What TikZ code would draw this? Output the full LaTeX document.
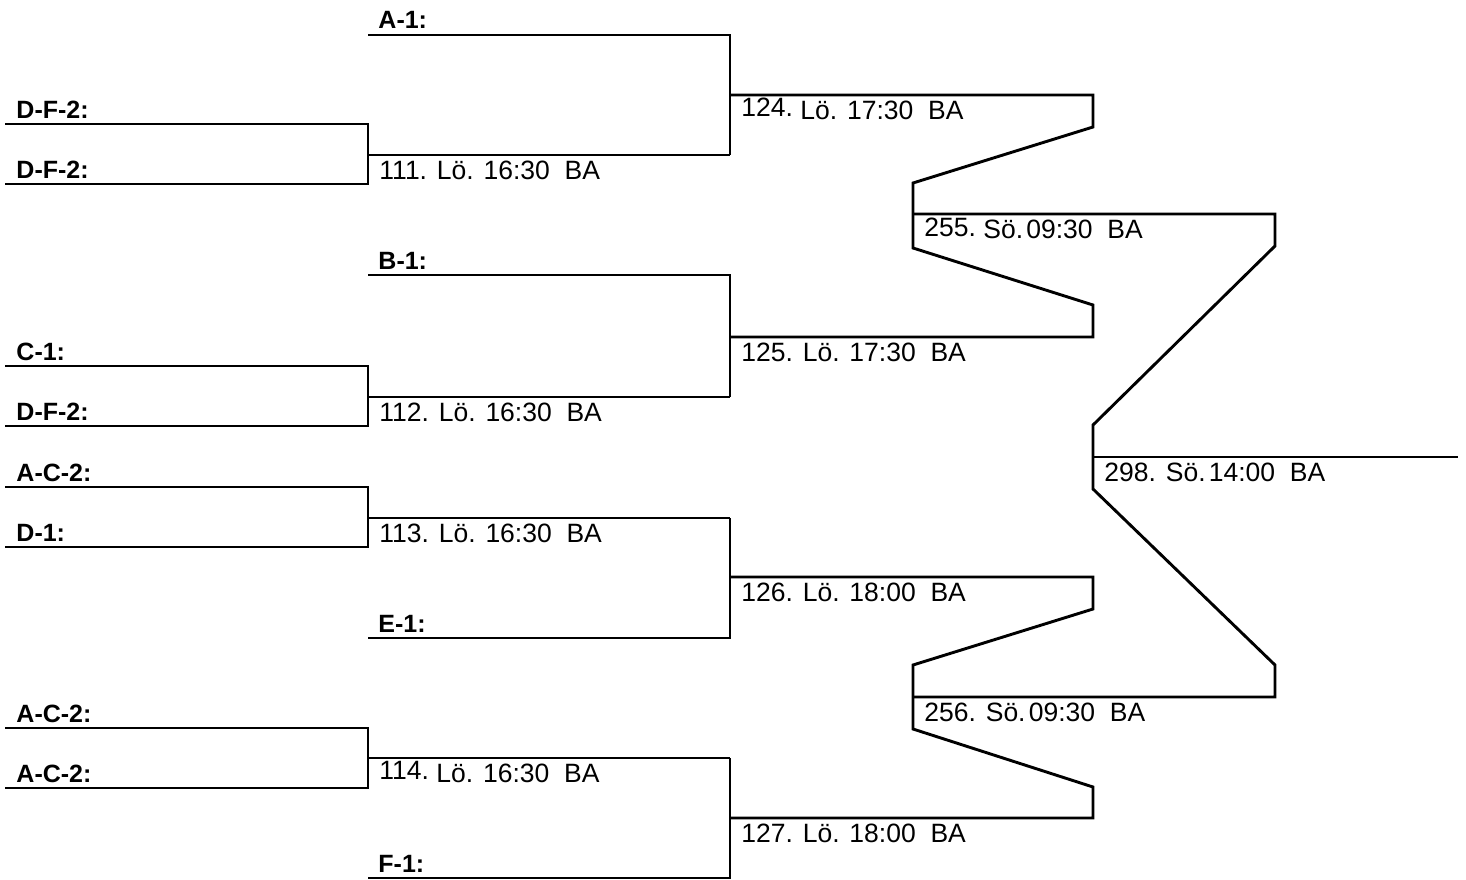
\documentclass[tikz,border=0pt]{standalone}
\usepackage{fontspec}
\setmainfont{Liberation Sans}
\begin{document}
\begin{tikzpicture}[x=1pt,y=-1pt,line width=2.9pt,line join=miter,
  team/.style={anchor=base west,inner sep=0pt,font=\bfseries\fontsize{25}{28}\selectfont},
  game/.style={anchor=base west,inner sep=0pt,font=\fontsize{26.5}{30}\selectfont}]
\useasboundingbox (0,0) rectangle (1466,880);
% ---------- coordinates ----------
\foreach \n/\x/\y in {
  t1/5/124, b1/5/184, t2/5/366, b2/5/426, t3/5/487, b3/5/547, t4/5/728, b4/5/788,
  ta/368/35, tb/368/275, te/368/638, tf/368/878}
  {\coordinate (\n) at (\x,\y);}
% ---------- first round ----------
\draw (t1) -- (368,124) -- (368,184) -- (b1);
\draw (368,155) coordinate (g111) -- (730,155);
\draw (t2) -- (368,366) -- (368,426) -- (b2);
\draw (368,397) coordinate (g112) -- (730,397);
\draw (t3) -- (368,487) -- (368,547) -- (b3);
\draw (368,518) coordinate (g113) -- (730,518);
\draw (t4) -- (368,728) -- (368,788) -- (b4);
\draw (368,758) coordinate (g114) -- (730,758);
% ---------- second round ----------
\draw (ta) -- (730,35) -- (730,155);
\draw (730,95) coordinate (g124);
\draw (tb) -- (730,275) -- (730,397);
\draw (730,337) coordinate (g125);
\draw (730,518) -- (730,638) -- (te);
\draw (730,577) coordinate (g126);
\draw (730,758) -- (730,878) -- (tf);
\draw (730,818) coordinate (g127);
% ---------- semifinal paths ----------
\draw (g124) -- (1093,95) -- (1093,127) -- (913,183) -- (913,248) -- (1093,305) -- (1093,337) -- (g125);
\draw (913,214) coordinate (g255) -- (1275,214) -- (1275,246) -- (1093,425) -- (1093,489) -- (1275,665) -- (1275,697) -- (913,697) coordinate (g256);
\draw (g126) -- (1093,577) -- (1093,609) -- (913,665) -- (913,729) -- (1093,787) -- (1093,818) -- (g127);
\draw (1093,457) coordinate (g298) -- (1458,457);
% ---------- team labels ----------
\node[team] (l1) at (15,118) {D-F-2:};
\node[team] (l2) at (15,178) {D-F-2:};
\node[team] (l3) at (15,360) {C-1:};
\node[team] (l4) at (15,420) {D-F-2:};
\node[team] (l5) at (15,481) {A-C-2:};
\node[team] (l6) at (15,541) {D-1:};
\node[team] (l7) at (15,722) {A-C-2:};
\node[team] (l8) at (15,782) {A-C-2:};
\node[team] (la) at (377,29) {A-1:};
\node[team] (lb) at (377,269) {B-1:};
\node[team] (le) at (377,632) {E-1:};
\node[team] (lf) at (377,872) {F-1:};
% ---------- game labels ----------
\node[game] (n111) at ([xshift=10pt,yshift=-24.5pt]g111) {111. Lö. 16:30\ \ BA};
\node[game] (n112) at ([xshift=10pt,yshift=-24.5pt]g112) {112. Lö. 16:30\ \ BA};
\node[game] (n113) at ([xshift=10pt,yshift=-24.5pt]g113) {113. Lö. 16:30\ \ BA};
\node[game] (n114) at ([xshift=10pt,yshift=-24.5pt]g114) {\raisebox{3pt}{114.} Lö. 16:30\ \ BA};
\node[game] (n124) at ([xshift=10pt,yshift=-24.5pt]g124) {\raisebox{3pt}{124.} Lö. 17:30\ \ BA};
\node[game] (n125) at ([xshift=10pt,yshift=-24.5pt]g125) {125. Lö. 17:30\ \ BA};
\node[game] (n126) at ([xshift=10pt,yshift=-24.5pt]g126) {126. Lö. 18:00\ \ BA};
\node[game] (n127) at ([xshift=10pt,yshift=-24.5pt]g127) {127. Lö. 18:00\ \ BA};
\node[game] (n255) at ([xshift=10pt,yshift=-24.5pt]g255) {\raisebox{2pt}{255.} Sö.\hspace{0.12em}09:30\ \ BA};
\node[game] (n256) at ([xshift=10pt,yshift=-24.5pt]g256) {256. Sö.\hspace{0.12em}09:30\ \ BA};
\node[game] (n298) at ([xshift=10pt,yshift=-24.5pt]g298) {298. Sö.\hspace{0.12em}14:00\ \ BA};
\end{tikzpicture}
\end{document}
